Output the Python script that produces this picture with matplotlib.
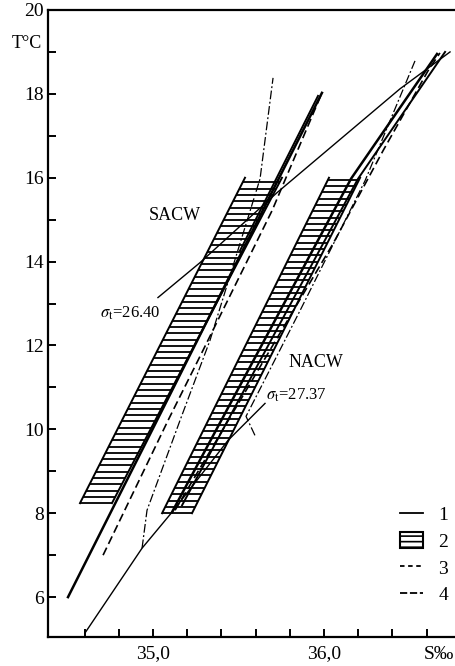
"""
T-S diagram of South and North Atlantic Central Water (SACW / NACW).
"""

import numpy as np
import matplotlib.pyplot as plt
from matplotlib.lines import Line2D
from matplotlib.patches import Patch

plt.rcParams['font.family'] = ['Liberation Serif', 'DejaVu Serif']
plt.rcParams['mathtext.fontset'] = 'stix'
plt.rcParams['hatch.linewidth'] = 1.2

# hatched envelopes: T of bottom/top edge, S of left and right edge at bottom/top
sacw_band_t = [8.24, 16.0]
sacw_band_s_left = [34.573, 35.538]
sacw_band_s_right = [34.76, 35.754]

nacw_band_t = [8.0, 16.0]
nacw_band_s_left = [35.053, 36.029]
nacw_band_s_right = [35.228, 36.211]

# SACW curves
sacw_solid_s = [34.503, 35.988]
sacw_solid_t = [6.0, 18.024]
sacw_solid2_s = [35.509, 35.965]
sacw_solid2_t = [14.262, 17.952]
sacw_dash_s = [34.708, 35.088, 35.292, 35.696, 35.988]
sacw_dash_t = [7.0, 10.214, 11.881, 15.214, 18.024]
sacw_dashdot_s = [34.936, 34.965, 35.158, 35.333, 35.626, 35.702]
sacw_dashdot_t = [7.167, 8.071, 10.214, 12.119, 15.976, 18.381]

# NACW curves
nacw_solid_s = [35.111, 36.158, 36.661]
nacw_solid_t = [8.024, 15.976, 18.952]
nacw_solid2_s = [35.170, 36.199, 36.708]
nacw_solid2_t = [8.190, 15.976, 19.0]
nacw_dash_s = [35.129, 36.053, 36.345, 36.608, 36.678]
nacw_dash_t = [8.071, 14.429, 16.643, 18.548, 18.976]
nacw_dashdot_s = [35.596, 35.544, 35.860, 36.240, 36.532]
nacw_dashdot_t = [9.857, 10.310, 12.833, 15.929, 18.786]

# isopycnals
sig2640_s = [35.029, 35.275, 35.725, 36.444, 36.737]
sig2640_t = [13.143, 13.976, 15.643, 18.119, 19.0]
sig2737_s = [34.602, 34.936, 35.111, 35.439, 35.655]
sig2737_t = [5.143, 7.167, 8.024, 9.738, 10.619]

x_ticks = [34.6, 34.8, 35.0, 35.2, 35.4, 35.6, 35.8, 36.0, 36.2, 36.4, 36.6]
x_labels = ['', '', '35,0', '', '', '', '', '36,0', '', '', '']
y_major = [6, 8, 10, 12, 14, 16, 18, 20]
y_minor = [7, 9, 11, 13, 15, 17, 19]

DASH = (0, (5, 2.5))
DASHDOT = (0, (7, 2, 1.5, 2))


def hatch_band(ax, t, s_left, s_right, step=0.15):
    """Parallelogram envelope filled with horizontal bars."""
    tt = np.arange(t[0], t[1] + 1e-6, step)
    frac = (tt - t[0]) / (t[1] - t[0])
    sl = s_left[0] + frac * (s_left[1] - s_left[0])
    sr = s_right[0] + frac * (s_right[1] - s_right[0])
    for a, b, y in zip(sl, sr, tt):
        ax.plot([a, b], [y, y], color='black', lw=1.3, solid_capstyle='butt')
    ax.plot([s_left[0], s_left[1]], t, color='black', lw=1.4)
    ax.plot([s_right[0], s_right[1]], t, color='black', lw=1.4)


fig = plt.figure(figsize=(4.55, 6.66), dpi=100)
ax = fig.add_axes([0.1055, 0.0435, 0.8945, 0.9415])

hatch_band(ax, sacw_band_t, sacw_band_s_left, sacw_band_s_right)
hatch_band(ax, nacw_band_t, nacw_band_s_left, nacw_band_s_right)

ax.plot(sacw_solid_s, sacw_solid_t, color='black', lw=1.8)
ax.plot(sacw_solid2_s, sacw_solid2_t, color='black', lw=1.4)
ax.plot(sacw_dash_s, sacw_dash_t, color='black', lw=1.2, linestyle=DASH)
ax.plot(sacw_dashdot_s, sacw_dashdot_t, color='black', lw=0.9, linestyle=DASHDOT)

ax.plot(nacw_solid_s, nacw_solid_t, color='black', lw=1.8)
ax.plot(nacw_solid2_s, nacw_solid2_t, color='black', lw=1.4)
ax.plot(nacw_dash_s, nacw_dash_t, color='black', lw=1.2, linestyle=DASH)
ax.plot(nacw_dashdot_s, nacw_dashdot_t, color='black', lw=0.9, linestyle=DASHDOT)

ax.plot(sig2640_s, sig2640_t, color='black', lw=1.0)
ax.plot(sig2737_s, sig2737_t, color='black', lw=1.0)

ax.text(35.129, 15.095, 'SACW', fontsize=13, ha='center', va='center')
ax.text(35.953, 11.595, 'NACW', fontsize=13, ha='center', va='center')
ax.text(34.865, 12.762, r'$\sigma_{\rm t}$=26.40', fontsize=12, ha='center', va='center')
ax.text(35.661, 10.81, r'$\sigma_{\rm t}$=27.37', fontsize=12, ha='left', va='center')

ax.set_xlim(34.386, 36.766)
ax.set_ylim(5.048, 20.0)

ax.set_xticks(x_ticks)
ax.set_xticklabels(x_labels)
ax.set_yticks(y_major)
ax.set_yticks(y_minor, minor=True)
ax.tick_params(axis='both', which='both', direction='in', length=6, width=1.4,
               labelsize=14)
ax.tick_params(axis='x', pad=6)
ax.tick_params(axis='y', pad=3)

ax.spines['right'].set_visible(False)
for side in ('left', 'top', 'bottom'):
    ax.spines[side].set_linewidth(1.6)

ax.text(-0.014, 19.19, 'T°C', transform=ax.get_yaxis_transform(),
        fontsize=13, ha='right', va='center')
ax.text(0.998, -0.014, 'S‰', transform=ax.transAxes,
        fontsize=14, ha='right', va='top')

handles = [
    Line2D([], [], color='black', lw=1.3),
    Patch(facecolor='white', edgecolor='black', hatch='---', lw=1.5),
    Line2D([], [], color='black', lw=1.3, linestyle=(0, (2.5, 2))),
    Line2D([], [], color='black', lw=1.3, linestyle=(0, (4, 1.5))),
]
ax.legend(handles, ['1', '2', '3', '4'], loc='upper left',
          bbox_to_anchor=(0.84, 0.225), frameon=False, fontsize=14,
          handlelength=1.2, handleheight=0.9, handletextpad=0.8,
          labelspacing=0.4, borderpad=0)

fig.savefig('out.png', dpi=100)
